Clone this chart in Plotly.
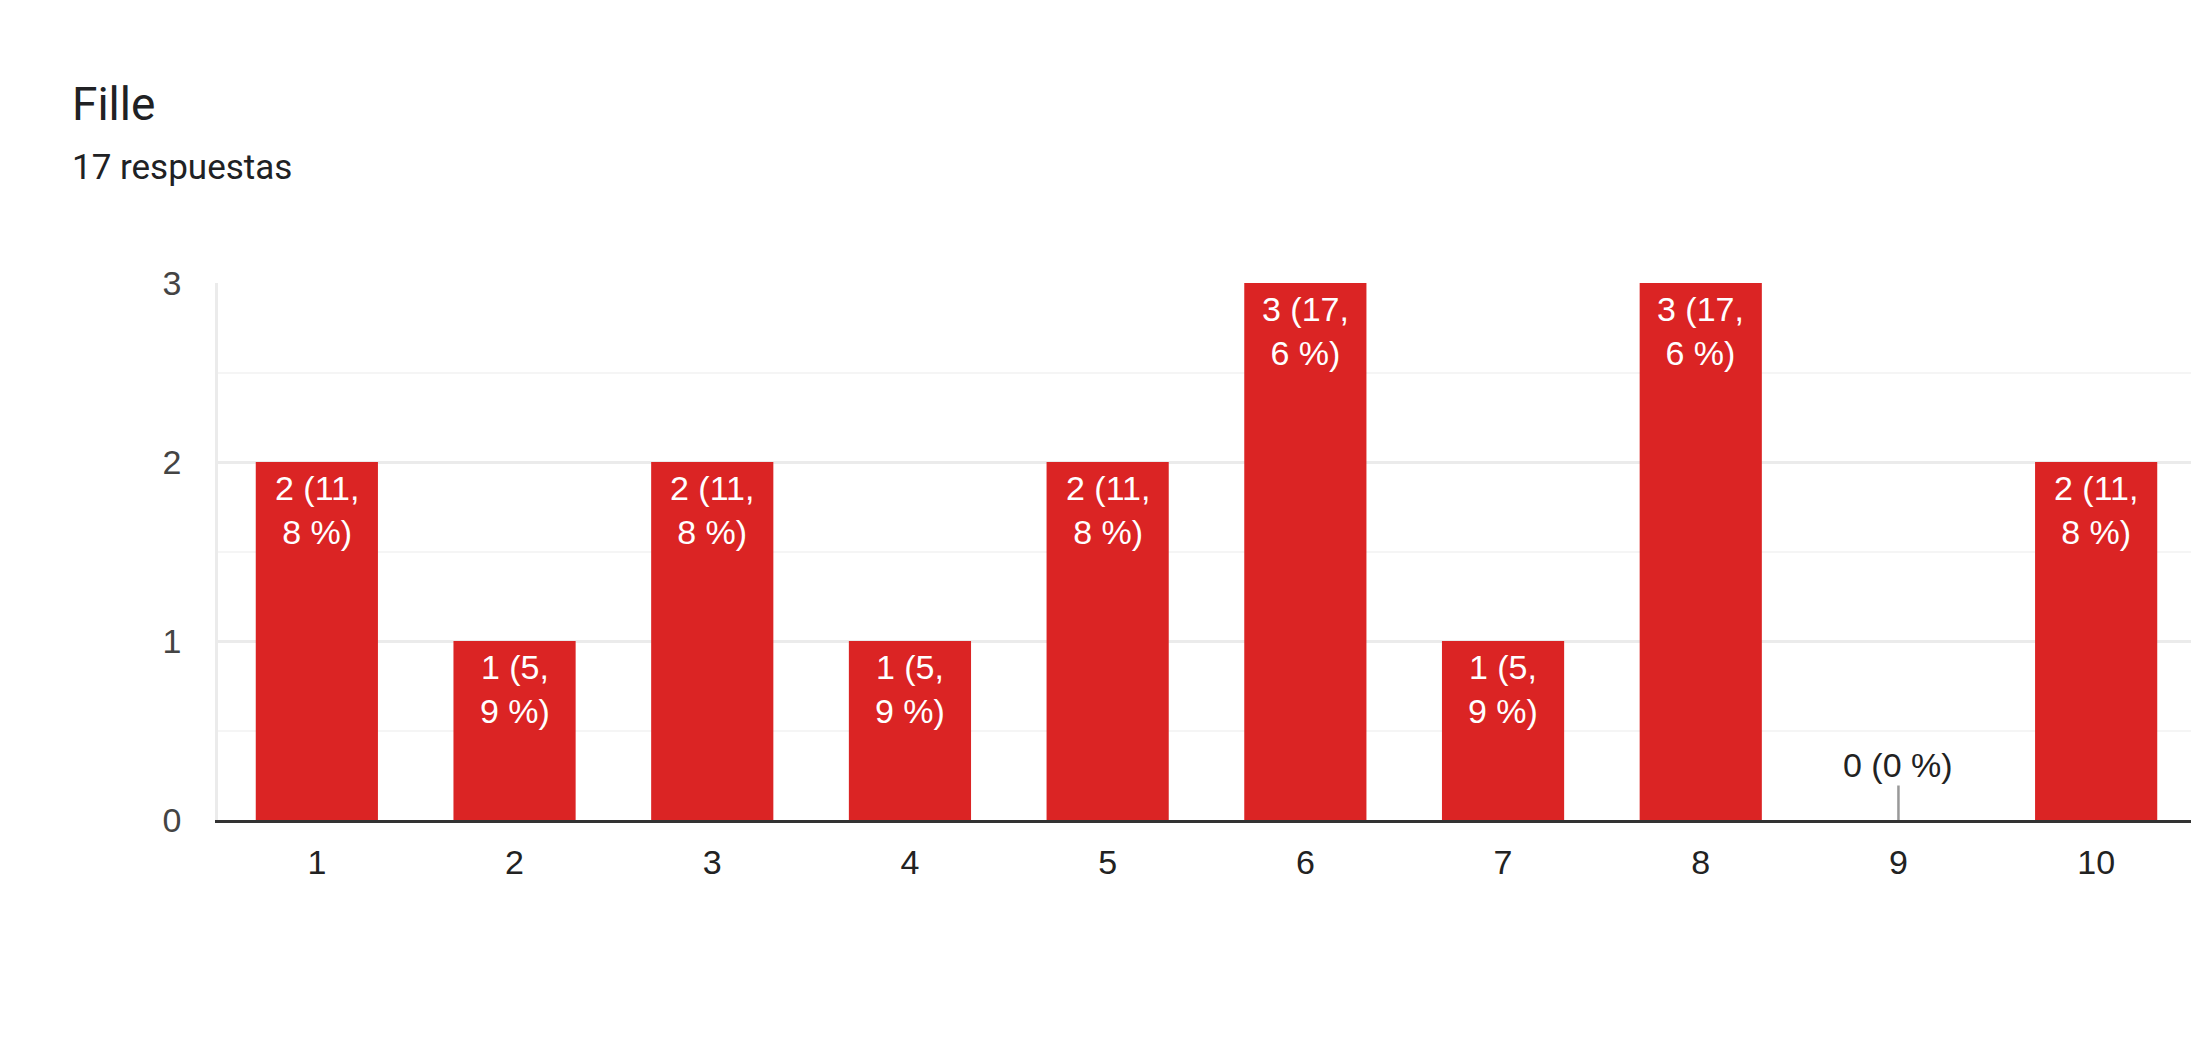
import plotly.graph_objects as go

# datos
categories = ['1', '2', '3', '4', '5', '6', '7', '8', '9', '10']
counts = [2, 1, 2, 1, 2, 3, 1, 3, 0, 2]
percents = ['11,8', '5,9', '11,8', '5,9', '11,8', '17,6', '5,9', '17,6', '0', '11,8']
y_ticks = [0, 1, 2, 3]

title = 'Fille'
total = sum(counts)
subtitle = f'{total} respuestas'

# la pagina tiene 8px de margen en el body
W, H = 2191, 1028
L, R, T, B = 210, 1, 275, 216
plot_h = H - T - B
plot_w = W - L - R

label_font = dict(family='Arial, Liberation Sans', size=34)

fig = go.Figure(go.Bar(
    x=categories,
    y=counts,
    marker=dict(color='#db2424', line=dict(width=0)),
    hoverinfo='x+y',
))

# etiquetas: dentro de la barra arriba, o encima con palito gris si vale cero
for i, (c, p) in enumerate(zip(counts, percents)):
    if c == 0:
        fig.add_annotation(
            x=i, y=0, xref='x', yref='y',
            text=f'{c} ({p} %)',
            showarrow=True, arrowhead=0, arrowwidth=2.5, arrowcolor='#999999',
            ax=0, ay=-55, standoff=0,
            font=dict(**label_font, color='#222222'),
        )
    else:
        ent, dec = p.split(',')
        fig.add_annotation(
            x=i, y=c, xref='x', yref='y',
            text=f'{c} ({ent},<br>{dec} %)',
            showarrow=False, yanchor='top', yshift=-5,
            font=dict(**label_font, color='white'),
        )

fig.add_annotation(
    x=(62 - L) / plot_w, y=(H - B - 95.5) / plot_h, xref='paper', yref='paper',
    text=title, showarrow=False, xanchor='left', yanchor='middle',
    font=dict(family='Roboto', size=46, color='#202124'),
)
fig.add_annotation(
    x=(62 - L) / plot_w, y=(H - B - 159.5) / plot_h, xref='paper', yref='paper',
    text=subtitle, showarrow=False, xanchor='left', yanchor='middle',
    font=dict(family='Roboto', size=35, color='#202124'),
)

fig.update_layout(
    width=W, height=H,
    margin=dict(l=L, r=R, t=T, b=B),
    paper_bgcolor='white', plot_bgcolor='white',
    bargap=0.382,
    showlegend=False,
)
fig.update_xaxes(
    type='category',
    showgrid=False, zeroline=False,
    showline=True, linecolor='#333333', linewidth=3,
    ticks='', ticklabelstandoff=10,
    tickfont=dict(family='Arial, Liberation Sans', size=34, color='#222222'),
)
fig.update_yaxes(
    range=[0, 3], tickvals=y_ticks, fixedrange=True,
    showgrid=True, gridcolor='#ebebeb', gridwidth=2.5,
    minor=dict(dtick=0.5, showgrid=True, gridcolor='#f5f5f5', gridwidth=2),
    zeroline=False,
    showline=True, mirror=True, linecolor='#ebebeb', linewidth=2.5,
    ticks='', ticklabelstandoff=27,
    tickfont=dict(family='Arial, Liberation Sans', size=34, color='#444444'),
)

fig.write_html('out.html')
